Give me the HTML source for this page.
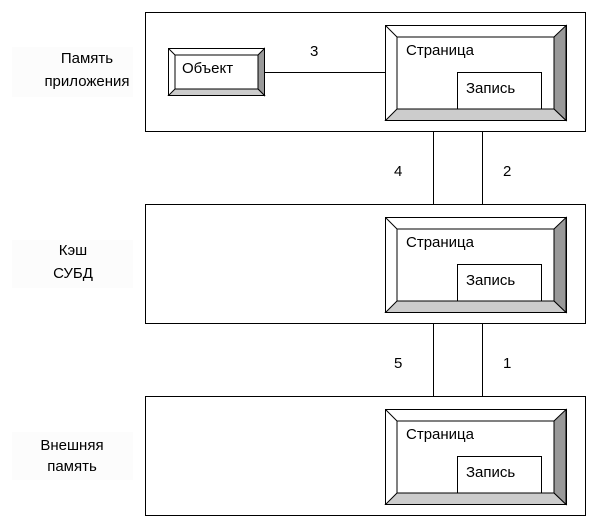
<!DOCTYPE html>
<html><head><meta charset="utf-8"><style>body{margin:0;background:#fff}svg{display:block}text{font-family:"Liberation Sans",sans-serif;font-size:15px;fill:#000}</style></head><body>
<svg width="600" height="529" viewBox="0 0 600 529" xmlns="http://www.w3.org/2000/svg">
<defs>
<g id="page">
<rect x="0.5" y="0.5" width="181" height="95" fill="#fff" stroke="#000"/>
<polygon points="169,12 181,0.5 181,95.5 169,84" fill="#999" stroke="#000"/>
<polygon points="12,84 169,84 181,95.5 0.5,95.5" fill="#ccc" stroke="#000"/>
<line x1="0.5" y1="0.5" x2="12" y2="12" stroke="#000"/>
<rect x="12" y="12" width="157" height="72" fill="#fff" stroke="#000"/>
<text x="21" y="30">Страница</text>
<rect x="72.5" y="47.5" width="84" height="36.5" fill="#fff" stroke="#000"/>
<text x="81" y="68">Запись</text>
</g>
</defs>
<g fill="#fcfcfc"><rect x="12" y="47" width="121" height="50"/><rect x="12" y="240" width="121" height="48"/><rect x="12" y="432" width="121" height="48"/></g>
<text x="87" y="63" text-anchor="middle">Память</text>
<text x="87" y="86" text-anchor="middle">приложения</text>
<text x="73" y="255" text-anchor="middle">Кэш</text>
<text x="73" y="278" text-anchor="middle">СУБД</text>
<text x="72" y="450" text-anchor="middle">Внешняя</text>
<text x="72" y="471" text-anchor="middle">память</text>
<g fill="#fff" stroke="#000"><rect x="145.5" y="12.5" width="440" height="119"/><rect x="145.5" y="204.5" width="440" height="119"/><rect x="145.5" y="396.5" width="440" height="119"/></g>
<g stroke="#000"><line x1="433.5" y1="131" x2="433.5" y2="204"/><line x1="482.5" y1="131" x2="482.5" y2="204"/><line x1="433.5" y1="323" x2="433.5" y2="396"/><line x1="482.5" y1="323" x2="482.5" y2="396"/><line x1="264" y1="72.5" x2="385" y2="72.5"/></g>
<use href="#page" x="385" y="25"/><use href="#page" x="385" y="217"/><use href="#page" x="385" y="409"/>
<rect x="168.5" y="48.5" width="96" height="47" fill="#fff" stroke="#000"/>
<polygon points="258,55 264.5,48.5 264.5,95.5 258,89" fill="#999" stroke="#000"/>
<polygon points="175,89 258,89 264.5,95.5 168.5,95.5" fill="#ccc" stroke="#000"/>
<line x1="168.5" y1="48.5" x2="175" y2="55" stroke="#000"/>
<rect x="175" y="55" width="83" height="34" fill="#fff" stroke="#000"/>
<text x="182" y="73">Объект</text>
<text x="310" y="56">3</text>
<text x="394" y="176">4</text>
<text x="503" y="176">2</text>
<text x="394" y="368">5</text>
<text x="503" y="368">1</text>
</svg>
</body></html>
